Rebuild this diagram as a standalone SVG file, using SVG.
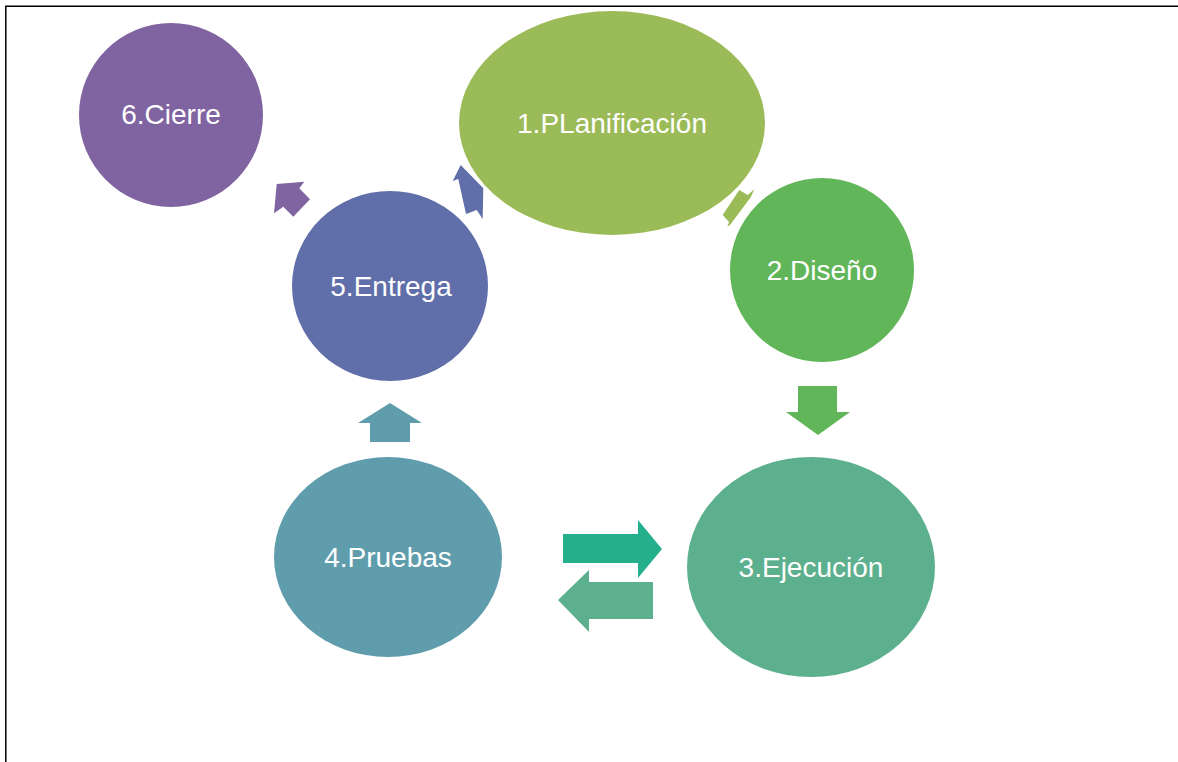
<svg xmlns="http://www.w3.org/2000/svg" width="1178" height="762" viewBox="0 0 1178 762">
  <style>
    .label { fill: #ffffff; font-family: "Liberation Sans", Arial, sans-serif; font-size: 28px; text-anchor: middle; }
    .frame { stroke: #000000; stroke-width: 1.5; fill: none; }
  </style>
  <rect width="1178" height="762" fill="#ffffff"/>
  <!-- page frame -->
  <path class="frame" d="M5.8,762 V6.3 H1178"/>

  <!-- connectors -->
  <g id="connectors">
    <polygon fill="#9BBB59" points="739.3,190 747.7,195 754.3,189.3 750.7,197.3 730,225 727.3,226.7 729,222 722.7,215"/>
    <polygon fill="#62B65A" points="798,386 837,386 837,412 850,412 818,435 786,412 798,412"/>
    <polygon fill="#25B08D" points="563,534 638,534 638,520 662,549 638,578 638,563 563,563"/>
    <polygon fill="#5DB08E" points="653,582 589,582 589,570 558,600 589,632 589,619 653,619"/>
    <polygon fill="#5F9DAD" points="370,442 370,423 358,423 390,403 422,423 410,423 410,442"/>
    <polygon fill="#606EA9" points="452.7,181 460.7,165 483.3,188.3 482.7,219 476.7,210 466,214 458.3,179"/>
    <polygon fill="#8064A2" points="276.7,184 304.3,181.7 299.3,188.3 310,199.3 293.3,216.7 283.3,206.7 274,213.3"/>
  </g>

  <g id="node-cierre">
    <circle cx="171" cy="115" r="92" fill="#8064A2"/>
    <text class="label" x="171" y="124">6.Cierre</text>
  </g>
  <g id="node-planificacion">
    <ellipse cx="612" cy="123" rx="153" ry="112" fill="#9BBB59"/>
    <text class="label" x="612" y="133">1.PLanificación</text>
  </g>
  <g id="node-diseno">
    <circle cx="822" cy="270" r="92" fill="#62B65A"/>
    <text class="label" x="822" y="280">2.Diseño</text>
  </g>
  <g id="node-ejecucion">
    <ellipse cx="811" cy="567" rx="124" ry="110" fill="#5DB08E"/>
    <text class="label" x="811" y="577">3.Ejecución</text>
  </g>
  <g id="node-pruebas">
    <ellipse cx="388" cy="557" rx="114" ry="100" fill="#5F9DAD"/>
    <text class="label" x="388" y="567">4.Pruebas</text>
  </g>
  <g id="node-entrega">
    <ellipse cx="390" cy="286" rx="98" ry="95" fill="#606EA9"/>
    <text class="label" x="391" y="296">5.Entrega</text>
  </g>
</svg>
